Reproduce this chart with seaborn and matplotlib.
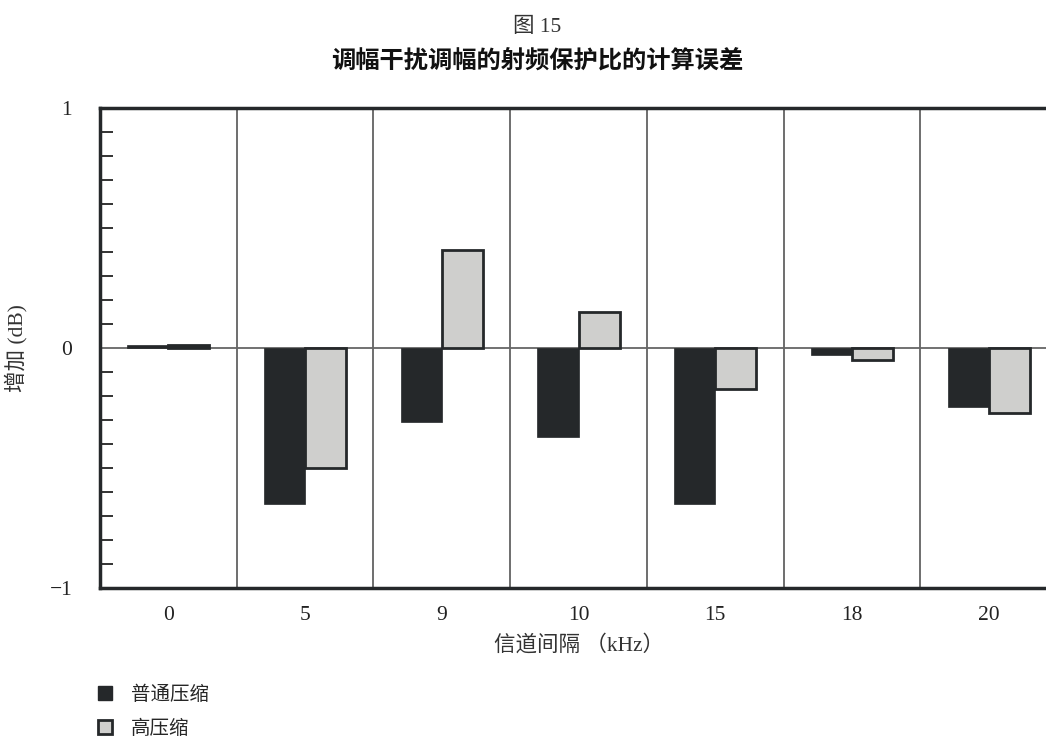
import numpy as np
import pandas as pd
import matplotlib
matplotlib.use("Agg")
import matplotlib.pyplot as plt
from matplotlib.lines import Line2D
from matplotlib.ticker import MultipleLocator
import seaborn as sns

categories = ["0", "5", "9", "10", "15", "18", "20"]
normal_comp = [0.012, -0.65, -0.31, -0.37, -0.65, -0.03, -0.245]
high_comp = [0.012, -0.50, 0.41, 0.15, -0.17, -0.05, -0.27]
series_names = ["普通压缩", "高压缩"]
y_ticks = [-1, 0, 1]
y_tick_labels = ["\u22121", "0", "1"]

sns.set_theme(style="white")
plt.rcParams['font.family'] = ['Liberation Serif', 'Noto Sans CJK SC']

df = pd.DataFrame({
    "cat": categories * 2,
    "val": normal_comp + high_comp,
    "series": [series_names[0]] * len(categories) + [series_names[1]] * len(categories),
})

dark = "#25282a"
light = "#cfcfcd"
fs = 15.5

fig = plt.figure(figsize=(10.46, 7.38), dpi=100)
ax = fig.add_axes([100 / 1046, 1 - 588 / 738, 957 / 1046, 480 / 738])

sns.barplot(data=df, x="cat", y="val", hue="series", order=categories,
            hue_order=series_names, palette=[dark, light], width=0.6,
            dodge=True, legend=False, ax=ax, saturation=1)

for i, p in enumerate(ax.patches):
    p.set_edgecolor(dark)
    if i >= len(categories):
        p.set_linewidth(2.0)
    else:
        p.set_linewidth(0.5)
# category 0: both series are tiny, render as a dark sliver
ax.patches[len(categories)].set_facecolor(dark)

ax.set_xlim(-0.5, len(categories) - 0.5)
ax.set_ylim(-1, 1)

for k in range(len(categories) - 1):
    ax.axvline(k + 0.5, color="#555555", lw=1.2, zorder=0)
ax.axhline(0, color="#666666", lw=1.3, zorder=0.5)

for s in ["left", "top", "bottom"]:
    ax.spines[s].set_linewidth(2.5)
    ax.spines[s].set_color(dark)
ax.spines["right"].set_visible(False)

ax.set_yticks(y_ticks)
ax.set_yticklabels(y_tick_labels, fontsize=fs)
ax.yaxis.set_minor_locator(MultipleLocator(0.1))
ax.tick_params(axis="y", which="major", direction="in", length=0, pad=20, labelcolor="#222222")
ax.tick_params(axis="y", which="minor", direction="in", length=9.5, width=1.4, color="#333333", left=True)
ax.tick_params(axis="x", which="both", length=0, pad=13, labelsize=fs, labelcolor="#222222")

ax.set_xlabel("信道间隔 （kHz）", fontsize=fs, labelpad=7, color="#333333")
ax.set_ylabel("增加 (dB)", fontsize=fs, labelpad=16, color="#333333")

fig.text(537 / 1046, 1 - 27 / 738, "图 15", ha="center", va="center", fontsize=fs, color="#333333")
fig.text(537 / 1046, 1 - 62 / 738, "调幅干扰调幅的射频保护比的计算误差", ha="center", va="center",
         fontsize=17.5, fontweight="bold", family=['Noto Sans CJK SC'], color="#111111")

handles = [
    Line2D([], [], marker="s", linestyle="none", markersize=10, markerfacecolor=dark, markeredgecolor=dark),
    Line2D([], [], marker="s", linestyle="none", markersize=10, markerfacecolor=light, markeredgecolor=dark, markeredgewidth=2),
]
fig.legend(handles, series_names, loc="upper left", bbox_to_anchor=(80 / 1046, 1 - 672 / 738),
           frameon=False, fontsize=14, handletextpad=0.7, labelspacing=0.8, handlelength=1.2,
           borderpad=0.2)

fig.savefig("out.png", dpi=100)
